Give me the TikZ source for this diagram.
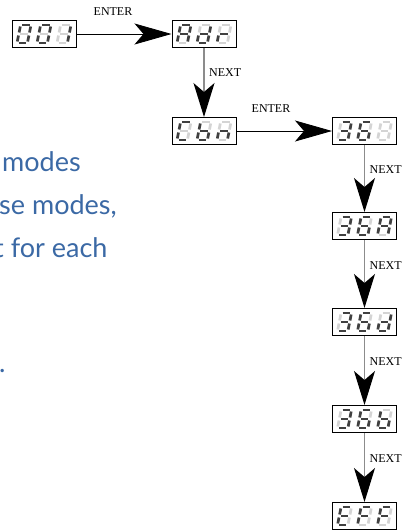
\documentclass[tikz,border=0pt]{standalone}
\usepackage{fontspec}
\setmainfont{Liberation Serif}
\newfontfamily\bodysans{Lato}
\usetikzlibrary{arrows.meta}

\definecolor{segdark}{HTML}{404040}
\definecolor{seglight}{HTML}{D4D4D4}
\definecolor{textblue}{HTML}{3B69A5}
\definecolor{stemgray}{HTML}{8C8C8C}

\tikzset{
  dispbox/.style={draw=black, line width=1pt, fill=white,
    minimum width=64pt, minimum height=27pt, inner sep=0pt},
  seg1/.style={draw=segdark, line width=2.7pt},
  seg0/.style={draw=seglight, line width=2.7pt},
  enterline/.style={draw=black, line width=0.8pt,
    -{Stealth[length=37pt,width=21pt,inset=9pt,color=black]}},
  nextline/.style={draw=stemgray, line width=1.3pt,
    -{Stealth[length=34pt,width=21pt,inset=9pt,color=black]}},
  keylabel/.style={font=\fontsize{12}{12}\selectfont, inner sep=0pt},
  bodytext/.style={font=\bodysans\fontsize{27}{27}\selectfont,
    text=textblue, inner sep=0pt, anchor=base west},
}

% one italic seven-segment digit; arguments are segments a..g (1 = lit)
\newcommand\sevdig[7]{%
  \begin{scope}[xslant=0.2]
    \draw[seg#1] (-3.7,-9) -- (3.7,-9);   % a
    \draw[seg#2] (5.2,-7.5) -- (5.2,-1.5); % b
    \draw[seg#3] (5.2,1.5) -- (5.2,7.5);   % c
    \draw[seg#4] (-3.7,9) -- (3.7,9);     % d
    \draw[seg#5] (-5.2,1.5) -- (-5.2,7.5); % e
    \draw[seg#6] (-5.2,-7.5) -- (-5.2,-1.5); % f
    \draw[seg#7] (-3.7,0) -- (3.7,0);     % g
  \end{scope}}

% segment codes a..g
\def\dZero{1111110}
\def\dOne{0110000}
\def\dThree{1111001}
\def\dSix{1011111}
\def\dA{1110111}
\def\db{0011111}
\def\dC{1001110}
\def\dd{0111101}
\def\dE{1001111}
\def\dF{1000111}
\def\dn{0010101}
\def\dr{0000101}
\def\dBlank{0000000}

% three digits inside a display box
\newcommand\disp[4]{%
  \begin{scope}[shift={(#1.center)}]
    \begin{scope}[shift={(-20,0)}]\expandafter\sevdig#2\end{scope}
    \begin{scope}[shift={(0,0)}]\expandafter\sevdig#3\end{scope}
    \begin{scope}[shift={(20,0)}]\expandafter\sevdig#4\end{scope}
  \end{scope}}

\begin{document}
\begin{tikzpicture}[x=1pt,y=-1pt]
  \useasboundingbox (0,0) rectangle (420,531);

  % running text at the left edge
  \begin{scope}
    \clip (0,0) rectangle (420,531);
    \node[bodytext] (txtA) at (2,171) {modes};
    \node[bodytext] (txtB) at (-1,214) {se modes,};
    \node[bodytext] (txtC) at (-6,257) {t for each};
    \node[bodytext] (txtD) at (-1,372) {.};
  \end{scope}

  % display boxes
  \node[dispbox] (d001) at (44,34) {};
  \node[dispbox] (dAdr) at (204,34) {};
  \node[dispbox] (dCbn) at (204,131) {};
  \node[dispbox] (d36)  at (364.5,131) {};
  \node[dispbox] (d36A) at (364.5,226) {};
  \node[dispbox] (d36d) at (364.5,322) {};
  \node[dispbox] (d36b) at (364.5,419) {};
  \node[dispbox] (dEFF) at (364.5,516) {};

  \disp{d001}{\dZero}{\dZero}{\dOne}
  \disp{dAdr}{\dA}{\dd}{\dr}
  \disp{dCbn}{\dC}{\db}{\dn}
  \disp{d36}{\dThree}{\dSix}{\dBlank}
  \disp{d36A}{\dThree}{\dSix}{\dA}
  \disp{d36d}{\dThree}{\dSix}{\dd}
  \disp{d36b}{\dThree}{\dSix}{\db}
  \disp{dEFF}{\dE}{\dF}{\dF}

  % ENTER transitions
  \draw[enterline] (d001) -- (dAdr);
  \draw[enterline] (dCbn) -- (d36);
  \node[keylabel] (lblEnterA) at (113,12) {ENTER};
  \node[keylabel] (lblEnterB) at (271,109) {ENTER};

  % NEXT transitions
  \draw[nextline] (dAdr) -- (dCbn);
  \draw[nextline] (d36) -- (d36A);
  \draw[nextline] (d36A) -- (d36d);
  \draw[nextline] (d36d) -- (d36b);
  \draw[nextline] (d36b) -- (dEFF);
  \node[keylabel, anchor=west] (lblNextA) at (209,73) {NEXT};
  \node[keylabel, anchor=west] (lblNextB) at (369.5,170) {NEXT};
  \node[keylabel, anchor=west] (lblNextC) at (369.5,266) {NEXT};
  \node[keylabel, anchor=west] (lblNextD) at (369.5,362) {NEXT};
  \node[keylabel, anchor=west] (lblNextE) at (369.5,459) {NEXT};
\end{tikzpicture}
\end{document}
